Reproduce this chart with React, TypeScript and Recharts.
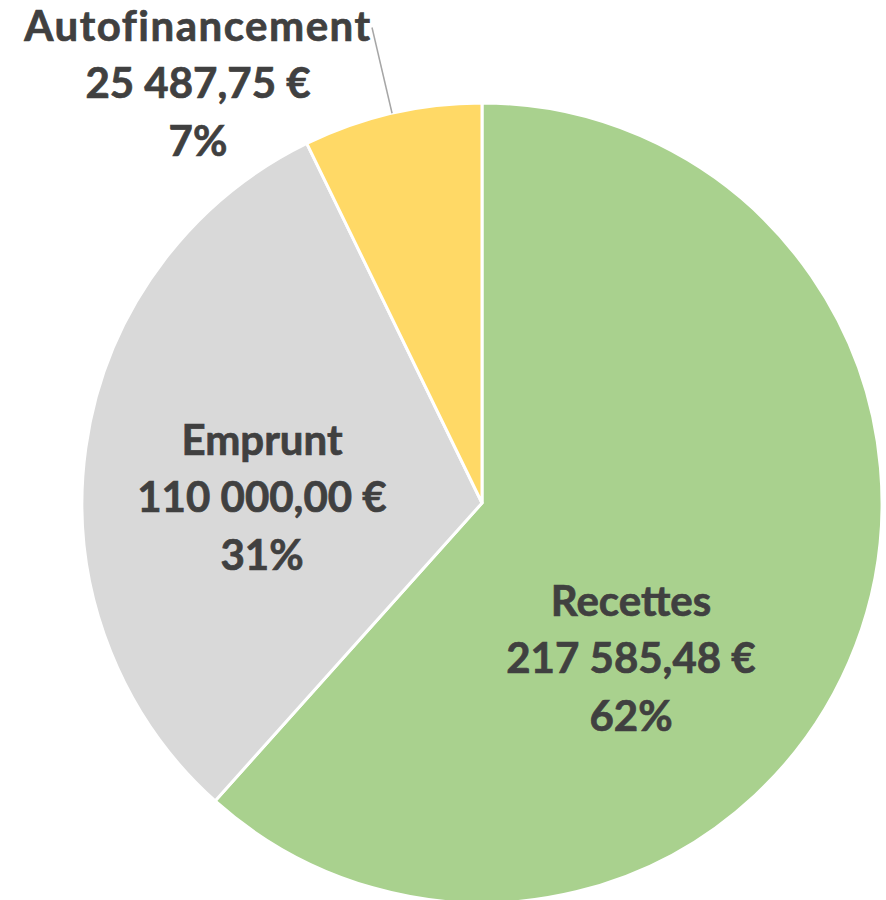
import { PieChart, Pie, Cell } from 'recharts'

const categories = ['Recettes', 'Emprunt', 'Autofinancement']
const amounts = [217585.48, 110000.0, 25487.75]
const colors = ['#A9D18E', '#D9D9D9', '#FFD966']

const data = categories.map((name, i) => ({ name, value: amounts[i] }))

// where each label's middle line sits, relative to the pie centre
const labelOffsets = [
  { dx: 149, dy: 170 },
  { dx: -220, dy: 9 },
  { dx: -284, dy: -405 },
]
const LINE_GAP = 57.5
const RAD = Math.PI / 180

function formatEuro(v: number) {
  const [int, dec] = v.toFixed(2).split('.')
  const grouped = int.replace(/\B(?=(\d{3})+(?!\d))/g, ' ')
  return `${grouped},${dec} €`
}

function SliceLabel(props: any) {
  const { cx, cy, midAngle, outerRadius, percent, index } = props
  const off = labelOffsets[index]
  const x = cx + off.dx
  const y = cy + off.dy
  const lines = [categories[index], formatEuro(amounts[index]), `${Math.round(percent * 100)}%`]

  // outside label gets a leader line from the slice edge
  let leader = null
  if (index === 2) {
    const sx = cx + outerRadius * Math.cos(-midAngle * RAD)
    const sy = cy + outerRadius * Math.sin(-midAngle * RAD)
    leader = <line x1={sx} y1={sy} x2={x + 174} y2={y - LINE_GAP - 13} stroke="#A6A6A6" strokeWidth={1.5} />
  }

  return (
    <g>
      {leader}
      <text
        x={x}
        y={y}
        textAnchor="middle"
        fontFamily="Lato, 'Open Sans', sans-serif"
        fontWeight="bold"
        fontSize={42}
        fill="#404040"
        stroke="#404040"
        strokeWidth={0.7}
      >
        {lines.map((l, i) => (
          <tspan key={i} x={x} y={y + (i - 1) * LINE_GAP} letterSpacing={i === 0 && index === 2 ? 1.5 : 0}>{l}</tspan>
        ))}
      </text>
    </g>
  )
}

export default function App() {
  return (
    <div style={{ position: 'absolute', left: 0, top: 0, width: 886, height: 900, background: '#fff' }}>
      <PieChart width={886} height={900} margin={{ top: 0, right: 0, bottom: 0, left: 0 }}>
        <Pie
          data={data}
          dataKey="value"
          nameKey="name"
          cx={482}
          cy={503}
          outerRadius={400}
          startAngle={90}
          endAngle={-270}
          stroke="#FFFFFF"
          strokeWidth={3}
          label={SliceLabel}
          labelLine={false}
          isAnimationActive={false}
        >
          {data.map((d, i) => (
            <Cell key={d.name} fill={colors[i]} />
          ))}
        </Pie>
      </PieChart>
    </div>
  )
}
